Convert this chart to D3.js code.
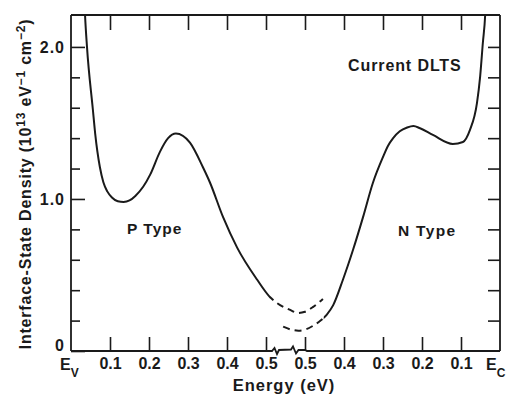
<!DOCTYPE html>
<html>
<head>
<meta charset="utf-8">
<script src="https://cdn.jsdelivr.net/npm/d3@7"></script>
<style>
  html, body { margin: 0; padding: 0; background: #fff; }
  svg { display: block; }
  text { font-family: "Liberation Sans", Arial, Helvetica, sans-serif; font-weight: bold; fill: #1a1a1a; }
</style>
</head>
<body>
<svg id="chart" width="506" height="396"></svg>
<script>
// ---------- data (energy measured from Ev, eV; density in 1e13 eV^-1 cm^-2) ----------
const pTypeEnergy  = [0.033, 0.036, 0.041, 0.056, 0.062, 0.074, 0.083, 0.093, 0.105, 0.120, 0.135, 0.150, 0.165, 0.185, 0.203, 0.228, 0.249, 0.269, 0.305, 0.338, 0.356, 0.390, 0.426, 0.477, 0.510];
const pTypeDensity = [2.40,  2.21,  2.00,  1.59,  1.43,  1.21,  1.11,  1.05,  1.01,  0.985, 0.98,  0.99,  1.02,  1.08,  1.16,  1.31,  1.40,  1.43,  1.37,  1.21,  1.11,  0.88,  0.68,  0.47,  0.355];
const pDashEnergy  = [0.528, 0.562, 0.582, 0.600, 0.621, 0.646];
const pDashDensity = [0.316, 0.270, 0.250, 0.258, 0.290, 0.342];

const nDashEnergy  = [0.544, 0.565, 0.583, 0.603, 0.620, 0.640];
const nDashDensity = [0.160, 0.140, 0.134, 0.143, 0.165, 0.200];
const nTypeEnergy  = [0.656, 0.672, 0.697, 0.723, 0.749, 0.774, 0.800, 0.813, 0.826, 0.843, 0.862, 0.878, 0.895, 0.928, 0.979, 1.005, 1.023, 1.041, 1.049, 1.056, 1.062, 1.065];
const nTypeDensity = [0.240, 0.300, 0.467, 0.664, 0.882, 1.105, 1.276, 1.350, 1.400, 1.445, 1.470, 1.480, 1.465, 1.421, 1.362, 1.375, 1.454, 1.632, 1.803, 2.026, 2.21,  2.40];

const xTickValues = [0.1, 0.2, 0.3, 0.4, 0.5, 0.6, 0.7, 0.8, 0.9, 1.0];
const xTickLabels = ["0.1", "0.2", "0.3", "0.4", "0.5", "0.5", "0.4", "0.3", "0.2", "0.1"];
const yTickValues = [0, 0.2, 0.4, 0.6, 0.8, 1.0, 1.2, 1.4, 1.6, 1.8, 2.0];
const yTickLabels = ["0", "", "", "", "", "1.0", "", "", "", "", "2.0"];
const bandGap = 1.1;
const pSolidEnd = 0.510;   // P-type curve dashed beyond this energy
const nSolidStart = 0.648; // N-type curve dashed below this energy

// ---------- layout ----------
const svg = d3.select("#chart");
const L = 71, R = 500, T = 15, B = 351;
const x = d3.scaleLinear().domain([0, bandGap]).range([L, R]);
const y = d3.scaleLinear().domain([0, 2.21]).range([B, T]);
const ink = "#1a1a1a";

const defs = svg.append("defs");
function clip(id, x0, x1) {
  defs.append("clipPath").attr("id", id).append("rect")
    .attr("x", x0).attr("y", T).attr("width", x1 - x0).attr("height", B - T);
}
clip("pSolid", L, x(pSolidEnd));
clip("pDash", x(pSolidEnd), R);
clip("nDash", L, x(nSolidStart));
clip("nSolid", x(nSolidStart), R);

// ---------- axes ----------
function styleAxis(g) {
  g.select(".domain").remove();
  g.selectAll(".tick line").attr("stroke", ink).attr("stroke-width", 1.6);
}

const gB = svg.append("g").attr("transform", `translate(0,${B})`)
  .call(d3.axisBottom(x).tickValues(xTickValues)
        .tickFormat((d, i) => xTickLabels[i]).tickSizeInner(-14).tickSizeOuter(0).tickPadding(7));
styleAxis(gB);
gB.selectAll(".tick text").attr("font-size", 16).attr("font-family", null).attr("fill", ink);

const gT = svg.append("g").attr("transform", `translate(0,${T})`)
  .call(d3.axisTop(x).tickValues(xTickValues).tickFormat("").tickSizeInner(-15).tickSizeOuter(0));
styleAxis(gT);

const gL = svg.append("g").attr("transform", `translate(${L},0)`)
  .call(d3.axisLeft(y).tickValues(yTickValues)
        .tickFormat((d, i) => yTickLabels[i]).tickSizeInner(-9).tickSizeOuter(0).tickPadding(6));
styleAxis(gL);
gL.selectAll(".tick line").attr("x2", (d, i) => yTickLabels[i] ? 14 : 9);
gL.selectAll(".tick text").attr("font-size", 16).attr("font-family", null).attr("fill", ink)
  .attr("letter-spacing", 1)
  .attr("dy", d => d === 0 ? "-0.05em" : "0.32em");

const gR = svg.append("g").attr("transform", `translate(${R},0)`)
  .call(d3.axisRight(y).tickValues(yTickValues.slice(1)).tickFormat("").tickSizeInner(-12).tickSizeOuter(0));
styleAxis(gR);

// frame
const frame = svg.append("g").attr("stroke", ink).attr("stroke-width", 1.8).attr("fill", "none");
frame.append("line").attr("x1", L).attr("x2", L).attr("y1", T).attr("y2", B);
frame.append("line").attr("x1", R).attr("x2", R).attr("y1", T).attr("y2", B);
frame.append("line").attr("x1", L).attr("x2", R).attr("y1", T).attr("y2", T);
const xa = x(0.5), xb = x(0.6);
const brk = [
  [L, B], [xa + 6, B], [xa + 8.5, B - 3], [xa + 11, B + 3], [xa + 13, B - 1],
  [xa + 25, B - 1.5], [xa + 27, B - 4.5], [xa + 30, B + 2.5], [xa + 32.5, B - 1], [xb, B - 1], [xb + 2, B], [R, B]
];
frame.append("path").attr("d", d3.line()(brk));

// edge labels
function edgeLabel(xpos, sub) {
  const t = svg.append("text").attr("x", xpos).attr("y", B + 19).attr("font-size", 16).attr("text-anchor", "start");
  t.append("tspan").text("E");
  t.append("tspan").attr("dy", 7).attr("font-size", 12).text(sub);
}
edgeLabel(x(0) - 11, "V");
edgeLabel(x(bandGap) - 14, "C");

// titles
svg.append("text").attr("x", 284).attr("y", 391).attr("text-anchor", "middle")
  .attr("font-size", 16.5).attr("letter-spacing", 1).text("Energy (eV)");

const yt = svg.append("text").attr("transform", "translate(31,184) rotate(-90)")
  .attr("text-anchor", "middle").attr("font-size", 16).attr("letter-spacing", 0.8);
yt.append("tspan").text("Interface-State Density (10");
yt.append("tspan").attr("dy", -6).attr("font-size", 12).text("13");
yt.append("tspan").attr("dy", 6).text(" eV");
yt.append("tspan").attr("dy", -6).attr("font-size", 12).text("\u22121");
yt.append("tspan").attr("dy", 6).text(" cm");
yt.append("tspan").attr("dy", -6).attr("font-size", 12).text("\u22122");
yt.append("tspan").attr("dy", 6).text(")");

// annotations
svg.append("text").attr("x", 348).attr("y", 71).attr("font-size", 16).attr("letter-spacing", 0.9).text("Current DLTS");
svg.append("text").attr("x", 127).attr("y", 234).attr("font-size", 15.5).attr("letter-spacing", 1).text("P Type");
svg.append("text").attr("x", 398).attr("y", 236).attr("font-size", 15.5).attr("letter-spacing", 1.3).text("N Type");

// ---------- curves ----------
const line = d3.line().x(d => x(d[0])).y(d => y(d[1])).curve(d3.curveMonotoneX);
const zip = (a, b) => a.map((v, i) => [v, b[i]]);
const pAll = zip(pTypeEnergy, pTypeDensity).concat(zip(pDashEnergy, pDashDensity));
const nAll = zip(nDashEnergy, nDashDensity).concat(zip(nTypeEnergy, nTypeDensity));
const curves = svg.append("g").attr("fill", "none").attr("stroke", ink).attr("stroke-width", 2);

curves.append("path").attr("clip-path", "url(#pSolid)").attr("d", line(pAll));
curves.append("path").attr("clip-path", "url(#pDash)").attr("d", line(pAll)).attr("stroke-dasharray", "7,5").attr("stroke-dashoffset", -3);
curves.append("path").attr("clip-path", "url(#nDash)").attr("d", line(nAll)).attr("stroke-dasharray", "7,5");
curves.append("path").attr("clip-path", "url(#nSolid)").attr("d", line(nAll));
</script>
</body>
</html>
